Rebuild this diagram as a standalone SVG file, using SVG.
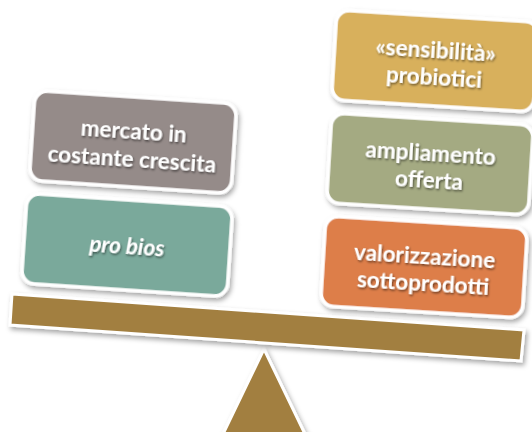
<svg xmlns="http://www.w3.org/2000/svg" width="532" height="432" viewBox="0 0 532 432">
<defs>
<filter id="sh" x="-10%" y="-10%" width="125%" height="130%">
<feDropShadow dx="2" dy="3" stdDeviation="2.5" flood-color="#000" flood-opacity="0.35"/>
</filter>
<filter id="tsh" x="-10%" y="-30%" width="120%" height="160%">
<feDropShadow dx="1" dy="1.5" stdDeviation="1" flood-color="#000" flood-opacity="0.55"/>
</filter>
</defs>
<style>
.box{stroke:#fff;stroke-width:3.5;filter:url(#sh)}
.t{font-family:Lato,"Open Sans","Liberation Sans",sans-serif;font-weight:bold;font-size:22.5px;fill:#fff;text-anchor:middle;dominant-baseline:central;filter:url(#tsh)}
.wood{fill:#a27f40;stroke:#fff;stroke-width:3;filter:url(#sh)}
</style>
<rect width="532" height="432" fill="#fff"/>
<g id="fulcrum"><polygon class="wood" points="264,349 305,434 223,434"/></g>
<g id="beam"><polygon class="wood" points="12,294 524,330 521,361 10,325"/></g>
<g id="connectors"/>
<g id="mercato" transform="translate(133,142) rotate(3.8)">
<rect class="box" x="-101" y="-45" width="202" height="90" rx="13" fill="#958b89"/>
<text class="t" y="-12">mercato in</text>
<text class="t" y="16">costante crescita</text>
</g>
<g id="probios" transform="translate(127,245) rotate(3.8)">
<rect class="box" x="-103" y="-45" width="206" height="90" rx="13" fill="#7aa99b"/>
<text class="t" y="0" font-style="italic">pro bios</text>
</g>
<g id="sensibilita" transform="translate(435,61) rotate(3.5)">
<rect class="box" x="-101" y="-45" width="202" height="90" rx="13" fill="#d8b05c"/>
<text class="t" y="-12">«sensibilità»</text>
<text class="t" y="16">probiotici</text>
</g>
<g id="ampliamento" transform="translate(430,164) rotate(3.5)">
<rect class="box" x="-101" y="-45" width="202" height="90" rx="13" fill="#a4aa82"/>
<text class="t" y="-12">ampliamento</text>
<text class="t" y="16">offerta</text>
</g>
<g id="valorizzazione" transform="translate(424,267) rotate(3.5)">
<rect class="box" x="-101" y="-45" width="202" height="90" rx="13" fill="#dd7e48"/>
<text class="t" y="-12">valorizzazione</text>
<text class="t" y="16">sottoprodotti</text>
</g>
</svg>
